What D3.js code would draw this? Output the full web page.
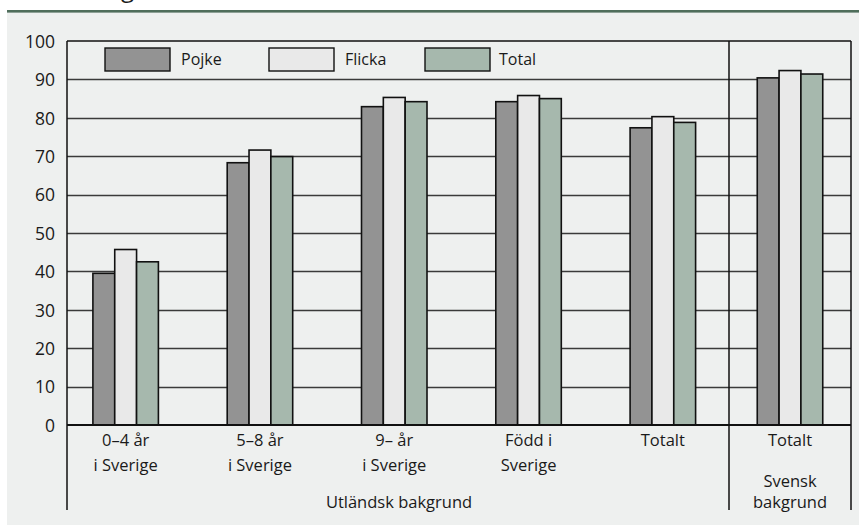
<!DOCTYPE html>
<html lang="sv">
<head>
<meta charset="utf-8" />
<script src="https://cdn.jsdelivr.net/npm/d3@7"></script>
<style>
body { margin: 0; background: #fff; }
svg { font-family: "Open Sans", Lato, sans-serif; fill: #1a1a1a; }
</style>
</head>
<body>
<svg id="chart" width="859" height="526"></svg>
<script>
// data
var groups = ["0–4 år|i Sverige", "5–8 år|i Sverige", "9– år|i Sverige", "Född i|Sverige", "Totalt"];
var swedishGroup = ["Totalt"];
var series = ["Pojke", "Flicka", "Total"];
var pojke  = [39.5, 68.3, 82.9, 84.2, 77.4, 90.4];
var flicka = [45.7, 71.6, 85.3, 85.8, 80.3, 92.3];
var total  = [42.5, 69.9, 84.2, 85.0, 78.8, 91.4];
var yTicks = [0, 10, 20, 30, 40, 50, 60, 70, 80, 90, 100];
var colors = ["#939393", "#e9e9e9", "#a6b8ad"];

var svg = d3.select("#chart");

// page frame: green rule and grey panel
svg.append("rect").attr("x", 7).attr("y", 12).attr("width", 852).attr("height", 513).attr("fill", "#eef0ef");
svg.append("rect").attr("x", 7).attr("y", 10).attr("width", 852).attr("height", 2.6).attr("fill", "#4f6e5b");
svg.append("text").attr("x", 121).attr("y", -3).attr("font-size", 24).text("g");

var left = 67, right = 851, sep = 729, bottom = 510;

var y = d3.scaleLinear().domain([0, 100]).range([425, 41]);
var x = d3.scaleBand().domain(groups).range([58.5, 730]);
var xs = d3.scaleBand().domain(swedishGroup).range([sep, right]);
var inner = d3.scaleBand().domain(series).range([0, 65.5]);

// gridlines
svg.append("g").selectAll("line")
    .data(yTicks.slice(1, -1))
  .enter().append("line")
    .attr("x1", left).attr("x2", right)
    .attr("y1", function(d) { return Math.round(y(d)) + 0.5; })
    .attr("y2", function(d) { return Math.round(y(d)) + 0.5; })
    .attr("stroke", "#3a3a3a").attr("stroke-width", 1.3);

// y axis labels
var yAxis = d3.axisLeft(y).tickValues(yTicks).tickSize(0).tickPadding(12);
var ya = svg.append("g").attr("transform", "translate(" + left + ",0)").call(yAxis);
ya.select(".domain").remove();
ya.selectAll("text").attr("font-size", 17.5).attr("font-family", "'Open Sans', sans-serif").attr("fill", "#1a1a1a").attr("dy", "0.36em");

// frame lines
var frame = svg.append("g").attr("stroke", "#111").attr("stroke-width", 1.5);
frame.append("line").attr("x1", left).attr("x2", right).attr("y1", y(100)).attr("y2", y(100));
frame.append("line").attr("x1", left).attr("x2", left).attr("y1", y(100)).attr("y2", bottom);
frame.append("line").attr("x1", sep).attr("x2", sep).attr("y1", y(100)).attr("y2", bottom);
frame.append("line").attr("x1", right).attr("x2", right).attr("y1", y(100)).attr("y2", bottom);

// bars: five groups with foreign background, one with Swedish background
var rows = groups.map(function(g, i) {
  return { x0: x(g) + x.bandwidth() / 2 - 32.75, vals: [pojke[i], flicka[i], total[i]] };
});
rows.push({ x0: xs("Totalt") + xs.bandwidth() / 2 - 32.75, vals: [pojke[5], flicka[5], total[5]] });

var cell = svg.append("g").selectAll("g")
    .data(rows)
  .enter().append("g")
    .attr("transform", function(d) { return "translate(" + d.x0 + ",0)"; });

cell.selectAll("rect")
    .data(function(d) { return d.vals.map(function(v, j) { return { s: series[j], v: v, c: colors[j] }; }); })
  .enter().append("rect")
    .attr("x", function(d) { return inner(d.s); })
    .attr("y", function(d) { return y(d.v); })
    .attr("width", inner.bandwidth())
    .attr("height", function(d) { return y(0) - y(d.v); })
    .attr("fill", function(d) { return d.c; })
    .attr("stroke", "#111").attr("stroke-width", 1.6);

// x baseline
frame.raise();
svg.append("line").attr("x1", left).attr("x2", right).attr("y1", y(0)).attr("y2", y(0))
    .attr("stroke", "#111").attr("stroke-width", 1.8);

// category labels
var labels = svg.append("g").attr("font-size", 16.5).attr("text-anchor", "middle");
groups.forEach(function(g) {
  var parts = g.split("|");
  var cx = x(g) + x.bandwidth() / 2;
  var t = labels.append("text").attr("x", cx).attr("y", 446);
  parts.forEach(function(p, k) {
    t.append("tspan").attr("x", cx).attr("dy", k === 0 ? 0 : 25).text(p);
  });
});
var sx = xs("Totalt") + xs.bandwidth() / 2;
labels.append("text").attr("x", sx).attr("y", 446).text("Totalt");
labels.append("text").attr("x", sx).attr("y", 487).text("Svensk");
labels.append("text").attr("x", sx).attr("y", 508).text("bakgrund");
labels.append("text").attr("x", 399).attr("y", 508).text("Utländsk bakgrund");

// legend
var legend = svg.append("g").selectAll("g")
    .data(series)
  .enter().append("g")
    .attr("transform", function(d, i) { return "translate(" + [105, 269, 425][i] + ",48)"; });
legend.append("rect")
    .attr("width", 65).attr("height", 23)
    .attr("fill", function(d, i) { return colors[i]; })
    .attr("stroke", "#111").attr("stroke-width", 1.4);
legend.append("text")
    .attr("x", function(d, i) { return [76, 76, 74][i]; })
    .attr("y", 17)
    .attr("font-size", 16)
    .text(function(d) { return d; });
</script>
</body>
</html>
